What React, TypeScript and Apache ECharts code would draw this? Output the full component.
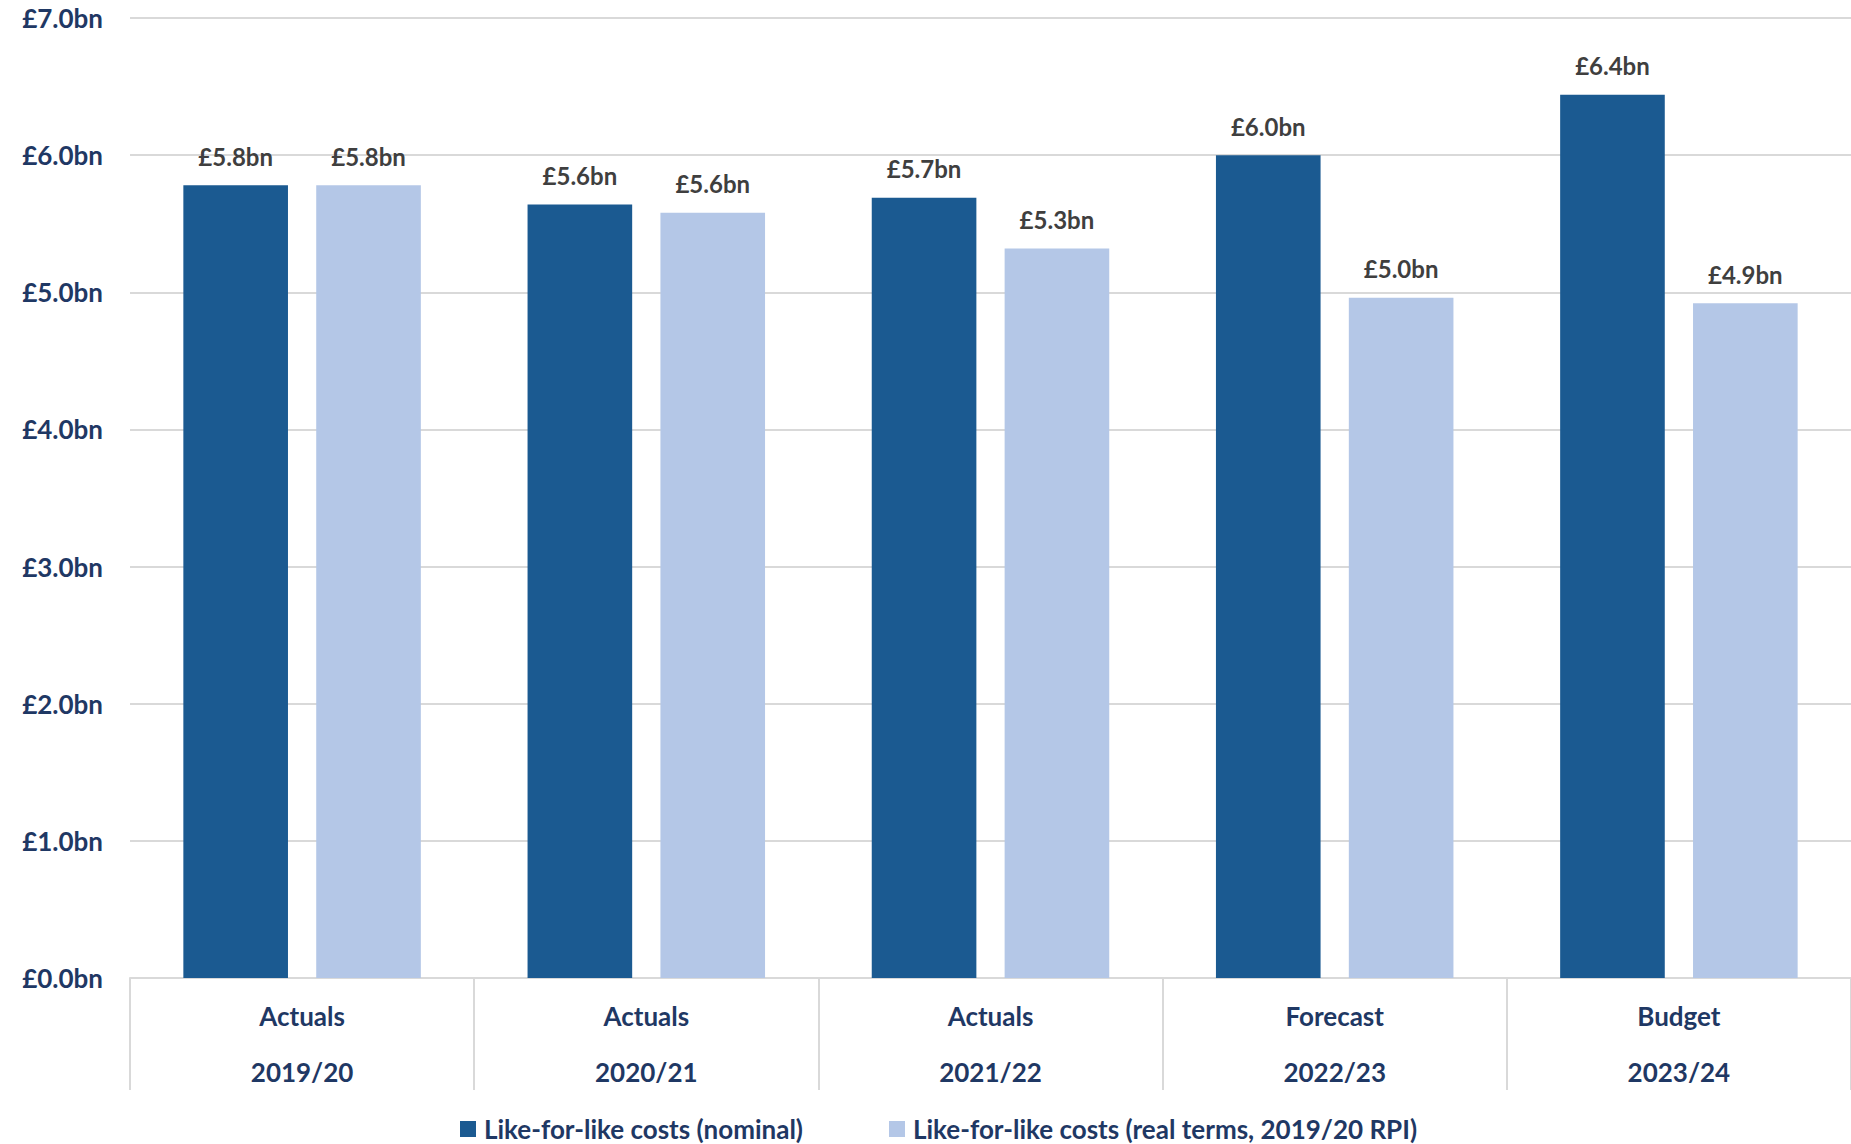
import React, { useEffect, useRef } from "react";
import * as echarts from "echarts";

const years = ["2019/20", "2020/21", "2021/22", "2022/23", "2023/24"];
const stages = ["Actuals", "Actuals", "Actuals", "Forecast", "Budget"];
const nominal = [5.78, 5.64, 5.69, 6.0, 6.44];
const realTerms = [5.78, 5.58, 5.32, 4.96, 4.92];
const seriesNames = [
  "Like-for-like costs (nominal)",
  "Like-for-like costs (real terms, 2019/20 RPI)",
];
const yTicks = { min: 0, max: 7, interval: 1 };

const FONT = "Lato, 'Open Sans', sans-serif";
const NAVY = "#1F3864";
const GRID = "#D9D9D9";

export default function App() {
  const ref = useRef<HTMLDivElement>(null);
  useEffect(() => {
    if (!ref.current) return;
    const chart = echarts.init(ref.current, undefined, { renderer: "svg" });
    const label = {
      show: true,
      position: "top",
      distance: 17,
      color: "#3F3F3F",
      fontFamily: FONT,
      fontWeight: "bold",
      fontSize: 24,
      formatter: (p: any) => "£" + Number(p.value).toFixed(1) + "bn",
    };
    chart.setOption({
      animation: false,
      grid: { left: 130, right: 0, top: 18, bottom: 166, containLabel: false },
      legend: {
        left: 455,
        top: 1110,
        itemWidth: 16,
        itemHeight: 16,
        itemGap: 86,
        icon: "rect",
        textStyle: {
          color: NAVY,
          fontFamily: FONT,
          fontWeight: "bold",
          fontSize: 26,
          lineHeight: 28,
          padding: [0, 0, 0, 3],
        },
        data: seriesNames,
      },
      xAxis: {
        type: "category",
        data: years,
        axisLine: { show: true, lineStyle: { color: GRID, width: 2 } },
        axisTick: {
          show: true,
          alignWithLabel: false,
          interval: 0,
          length: 112,
          lineStyle: { color: GRID, width: 2 },
        },
        axisLabel: {
          interval: 0,
          margin: 10,
          formatter: (v: string) => {
            const i = years.indexOf(v);
            return "{a|" + stages[i] + "}\n{a|" + v + "}";
          },
          rich: {
            a: {
              color: NAVY,
              fontFamily: FONT,
              fontWeight: "bold",
              fontSize: 26,
              lineHeight: 56,
            },
          },
        },
      },
      yAxis: {
        type: "value",
        min: yTicks.min,
        max: yTicks.max,
        interval: yTicks.interval,
        axisLine: { show: false },
        axisTick: { show: false },
        splitLine: { lineStyle: { color: GRID, width: 2 } },
        axisLabel: {
          margin: 27,
          color: NAVY,
          fontFamily: FONT,
          fontWeight: "bold",
          fontSize: 26,
          formatter: (v: number) => "£" + v.toFixed(1) + "bn",
        },
      },
      series: [
        {
          name: seriesNames[0],
          type: "bar",
          data: nominal,
          barGap: "27%",
          barCategoryGap: "31%",
          itemStyle: { color: "#1B5A91" },
          label,
        },
        {
          name: seriesNames[1],
          type: "bar",
          data: realTerms,
          barGap: "27%",
          barCategoryGap: "31%",
          itemStyle: { color: "#B4C7E7" },
          label,
        },
      ],
    });
    return () => chart.dispose();
  }, []);
  return (
    <div
      ref={ref}
      style={{ position: "fixed", left: 0, top: 0, width: 1851, height: 1144, background: "#fff" }}
    />
  );
}
